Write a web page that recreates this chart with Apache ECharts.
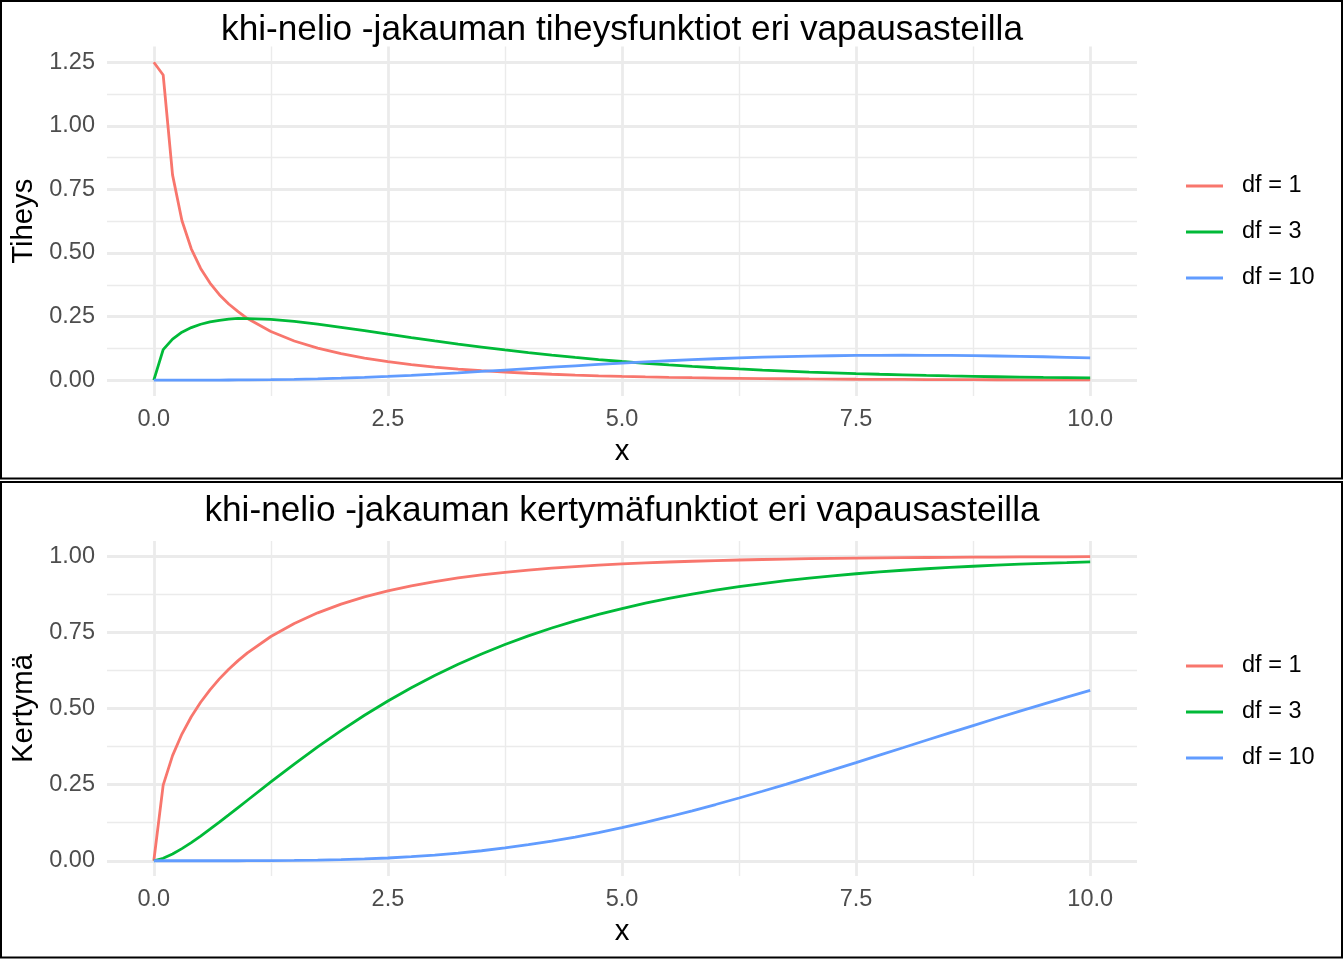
<!DOCTYPE html>
<html>
<head>
<meta charset="utf-8">
<script src="https://cdn.jsdelivr.net/npm/echarts@6/dist/echarts.min.js"></script>
<style>html,body{margin:0;padding:0;background:#fff}#c{width:1344px;height:960px}</style>
</head>
<body>
<div id="c"></div>
<script>
const xs = [0,0.1,0.2,0.3,0.4,0.5,0.6,0.7,0.8,0.9,
  1,1.25,1.5,1.75,2,2.25,2.5,2.75,3,3.25,3.5,3.75,4,4.25,4.5,4.75,5,5.25,5.5,5.75,6,6.25,6.5,6.75,7,7.25,7.5,7.75,8,8.25,8.5,8.75,9,9.25,9.5,9.75,10];
const dens1 = [1.25,1.2,0.8072,0.6275,0.5164,0.4394,0.3815,0.3360,0.2995,0.2693,
  0.2420,0.1910,0.1539,0.1257,0.1038,0.0863,0.0723,0.0608,0.0514,0.0436,0.0371,0.0316,0.0270,0.0231,0.0198,0.0170,0.0146,0.0126,0.0109,0.0094,0.0081,0.0070,0.0061,0.0053,0.0045,0.0040,0.0034,0.0030,0.0026,0.0022,0.0020,0.0017,0.0015,0.0013,0.0011,0.0010,0.0009];
const dens3 = [0,0.1200,0.1614,0.1883,0.2066,0.2197,0.2289,0.2352,0.2396,0.2424,
  0.2420,0.2388,0.2309,0.2200,0.2076,0.1943,0.1807,0.1673,0.1542,0.1416,0.1300,0.1185,0.1080,0.0982,0.0891,0.0809,0.0732,0.0662,0.0598,0.0540,0.0486,0.0438,0.0394,0.0354,0.0315,0.0286,0.0257,0.0230,0.0207,0.0185,0.0166,0.0149,0.0133,0.0119,0.0106,0.0096,0.0085];
const dens10 = [0,0,0,0.00001,0.00003,0.00006,0.00013,0.00022,0.00036,0.00054,
  0.00079,0.0017,0.0031,0.0051,0.0077,0.0108,0.0146,0.0188,0.0235,0.0286,0.0340,0.0395,0.0451,0.0507,0.0563,0.0617,0.0668,0.0717,0.0762,0.0803,0.0840,0.0873,0.0901,0.0925,0.0944,0.0959,0.0969,0.0975,0.0977,0.0975,0.0969,0.0961,0.0949,0.0934,0.0918,0.0898,0.0877];
const cdf1 = [0,0.2482,0.3453,0.4161,0.4729,0.5205,0.5614,0.5972,0.6289,0.6572,
  0.6827,0.7364,0.7793,0.8141,0.8427,0.8664,0.8862,0.9028,0.9167,0.9286,0.9386,0.9472,0.9545,0.9607,0.9661,0.9707,0.9747,0.9781,0.9810,0.9835,0.9857,0.9876,0.9892,0.9906,0.9918,0.9929,0.9938,0.9946,0.9953,0.9959,0.9964,0.9969,0.9973,0.9977,0.9979,0.9982,0.9984];
const cdf3 = [0,0.0082,0.0224,0.0400,0.0598,0.0811,0.1036,0.1267,0.1505,0.1746,
  0.1987,0.2589,0.3177,0.3741,0.4276,0.4778,0.5248,0.5682,0.6083,0.6454,0.6792,0.7102,0.7385,0.7643,0.7877,0.8089,0.8282,0.8457,0.8614,0.8755,0.8884,0.9000,0.9103,0.9198,0.9281,0.9357,0.9424,0.9486,0.9540,0.9589,0.9633,0.9671,0.9707,0.9739,0.9767,0.9790,0.9814];
const cdf10 = [0,0,0,0,0,0,0,0,0.00001,0.00002,
  0.0002,0.0004,0.0011,0.0021,0.0037,0.0060,0.0091,0.0133,0.0186,0.0251,0.0329,0.0421,0.0527,0.0647,0.0780,0.0928,0.1088,0.1261,0.1446,0.1641,0.1847,0.2061,0.2283,0.2511,0.2746,0.2983,0.3224,0.3469,0.3712,0.3957,0.4199,0.4440,0.4679,0.4915,0.5146,0.5375,0.5595];
const seriesNames = ['df = 1','df = 3','df = 10'];
const colors = ['#F8766D','#00BA38','#619CFF'];
const xMajor = [0,2.5,5,7.5,10];
const xMinor = [1.25,3.75,6.25,8.75];
const yMajorTop = [0,0.25,0.5,0.75,1,1.25];
const yMinorTop = [0.125,0.375,0.625,0.875,1.125];
const yMajorBot = [0,0.25,0.5,0.75,1];
const yMinorBot = [0.125,0.375,0.625,0.875];
const titles = ['khi-nelio -jakauman tiheysfunktiot eri vapausasteilla','khi-nelio -jakauman kertymäfunktiot eri vapausasteilla'];
const yNames = ['Tiheys','Kertymä'];

const FONT = "'Liberation Sans', Arial, Helvetica, sans-serif";
const GRID = '#EBEBEB';
const zip = (a) => xs.map((x, i) => [x, a[i]]);

function xAxes(gi) {
  return [
    { type:'value', gridIndex:gi, min:-0.5, max:10.5, position:'bottom',
      axisLine:{show:false}, axisTick:{show:false, customValues:xMajor},
      axisLabel:{customValues:xMajor, formatter:v=>v.toFixed(1), color:'#4D4D4D', fontSize:23.5, fontFamily:FONT, margin:12},
      splitLine:{show:true, lineStyle:{color:GRID, width:2.8}},
      name:'x', nameLocation:'middle', nameGap:41, nameTextStyle:{color:'#000', fontSize:29.3, fontFamily:FONT} },
    { type:'value', gridIndex:gi, min:-0.5, max:10.5, position:'top',
      axisLine:{show:false}, axisTick:{show:false, customValues:xMinor},
      axisLabel:{show:false, customValues:xMinor},
      splitLine:{show:true, lineStyle:{color:GRID, width:1.4}} }
  ];
}
function yAxes(gi, maj, min, lo, hi, name) {
  return [
    { type:'value', gridIndex:gi, min:lo, max:hi, position:'left',
      axisLine:{show:false}, axisTick:{show:false, customValues:maj},
      axisLabel:{customValues:maj, formatter:v=>v.toFixed(2), color:'#4D4D4D', fontSize:23.5, fontFamily:FONT, margin:12},
      splitLine:{show:true, lineStyle:{color:GRID, width:2.8}},
      name:name, nameLocation:'middle', nameGap:60, nameTextStyle:{color:'#000', fontSize:29.3, fontFamily:FONT} },
    { type:'value', gridIndex:gi, min:lo, max:hi, position:'right',
      axisLine:{show:false}, axisTick:{show:false, customValues:min},
      axisLabel:{show:false, customValues:min},
      splitLine:{show:true, lineStyle:{color:GRID, width:1.4}} }
  ];
}

const topData = [dens1, dens3, dens10];
const botData = [cdf1, cdf3, cdf10];
const series = [];
topData.forEach((d, i) => series.push({ name:seriesNames[i], type:'line', xAxisIndex:0, yAxisIndex:0, data:zip(d), symbol:'none', smooth:false, lineStyle:{color:colors[i], width:2.8}, itemStyle:{color:colors[i]}, z:3 }));
botData.forEach((d, i) => series.push({ name:seriesNames[i], type:'line', xAxisIndex:2, yAxisIndex:2, data:zip(d), symbol:'none', smooth:false, lineStyle:{color:colors[i], width:2.8}, itemStyle:{color:colors[i]}, z:3 }));

const legendBase = { orient:'vertical', left:1186, padding:0, icon:'rect', itemWidth:37, itemHeight:3, itemGap:22, data:seriesNames,
  textStyle:{color:'#000', fontSize:23.5, lineHeight:24, fontFamily:FONT, padding:[0,0,0,14]}, selectedMode:false };

const option = {
  animation:false,
  backgroundColor:'#fff',
  title:[
    { text:titles[0], left:622, top:13, textAlign:'center', padding:0, textStyle:{color:'#000', fontSize:35.2, fontWeight:'normal', fontFamily:FONT} },
    { text:titles[1], left:622, top:494, textAlign:'center', padding:0, textStyle:{color:'#000', fontSize:35.2, fontWeight:'normal', fontFamily:FONT} }
  ],
  legend:[ Object.assign({top:174}, legendBase), Object.assign({top:654}, legendBase) ],
  grid:[
    { left:107, top:46.4, width:1030, height:349.6, containLabel:false },
    { left:107, top:541, width:1030, height:335, containLabel:false }
  ],
  xAxis:[...xAxes(0), ...xAxes(1)],
  yAxis:[...yAxes(0, yMajorTop, yMinorTop, -0.0625, 1.3125, yNames[0]), ...yAxes(1, yMajorBot, yMinorBot, -0.05, 1.05, yNames[1])],
  series:series,
  graphic:[
    { type:'rect', shape:{x:1, y:1, width:1341, height:477.5}, style:{fill:null, stroke:'#000', lineWidth:2}, silent:true, z:100 },
    { type:'rect', shape:{x:1, y:482, width:1341, height:475.5}, style:{fill:null, stroke:'#000', lineWidth:2}, silent:true, z:100 }
  ]
};
const chart = echarts.init(document.getElementById('c'), null, {renderer:'canvas'});
chart.setOption(option);
</script>
</body>
</html>
